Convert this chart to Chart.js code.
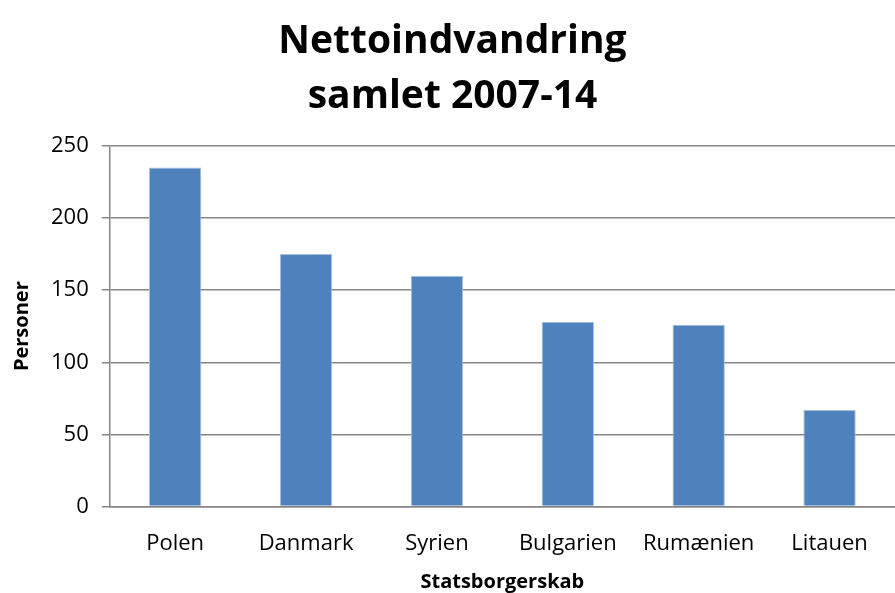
<!DOCTYPE html>
<html>
<head>
<meta charset="utf-8">
<script src="https://cdn.jsdelivr.net/npm/chart.js@4"></script>
<style>
  html, body { margin: 0; padding: 0; background: #fff; }
  #wrap { width: 895px; height: 593px; }
</style>
</head>
<body>
<div id="wrap"><canvas id="c" width="895" height="593"></canvas></div>
<script>
const categories = ["Polen", "Danmark", "Syrien", "Bulgarien", "Rumænien", "Litauen"];
const values = [235, 175, 160, 128, 126, 67];
const titleLines = ["Nettoindvandring", "samlet 2007-14"];
const yTitle = "Personer";
const xTitle = "Statsborgerskab";

const FONT = "'Open Sans', 'Liberation Sans', sans-serif";
new Chart(document.getElementById('c'), {
  type: 'bar',
  data: {
    labels: categories,
    datasets: [{
      data: values,
      backgroundColor: '#4F81BD',
      borderColor: '#A7C0DE',
      borderWidth: 1,
      categoryPercentage: 1,
      barPercentage: 0.4
    }]
  },
  options: {
    responsive: false,
    animation: false,
    layout: { padding: { left: 10, right: 0, top: 14, bottom: 0 } },
    plugins: {
      legend: { display: false },
      tooltip: { enabled: false },
      title: {
        display: true,
        text: titleLines,
        color: '#000',
        font: { family: FONT, size: 39, weight: 'bold', lineHeight: 1.42 },
        padding: { top: 0, bottom: 21 }
      }
    },
    scales: {
      x: {
        grid: { display: false, drawTicks: false },
        border: { display: true, color: '#868686', width: 1.5 },
        ticks: { color: '#000', font: { family: FONT, size: 22 }, padding: 24, maxRotation: 0, autoSkip: false },
        title: { display: true, text: xTitle, color: '#000', font: { family: FONT, size: 20, weight: 'bold', lineHeight: 1.0 }, padding: { top: -9, bottom: 1 } }
      },
      y: {
        min: 0, max: 250,
        ticks: { stepSize: 50, color: '#000', font: { family: FONT, size: 22 }, padding: 13 },
        grid: { color: '#868686', lineWidth: 1.5, tickLength: 8, drawTicks: true },
        border: { display: true, color: '#868686', width: 1.5 },
        title: { display: true, text: yTitle, color: '#000', font: { family: FONT, size: 20, weight: 'bold' }, padding: { top: 0, bottom: 4 } }
      }
    }
  }
});
</script>
</body>
</html>
